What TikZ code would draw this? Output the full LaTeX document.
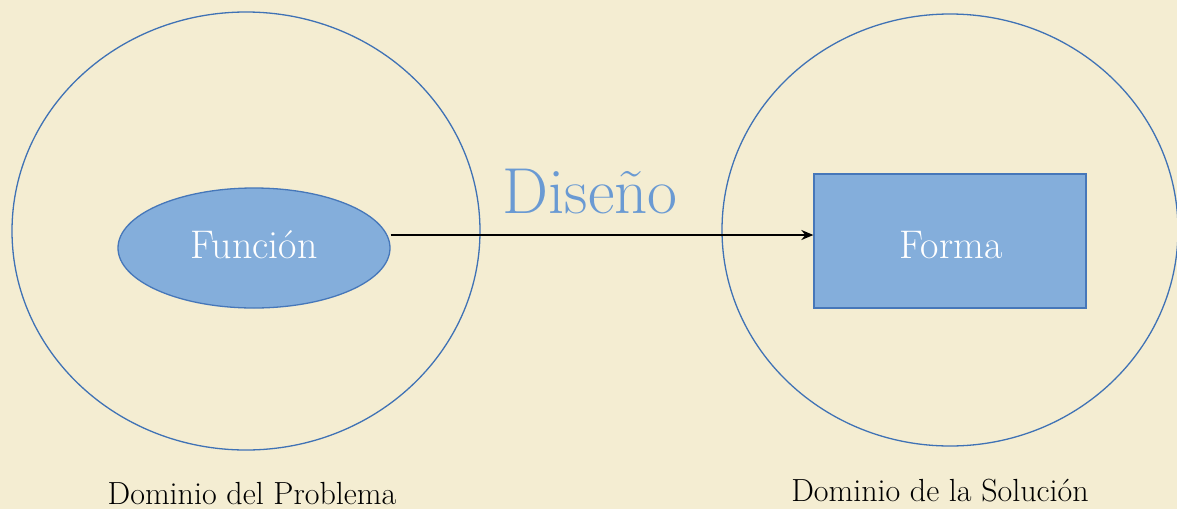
\documentclass[tikz,border=0pt]{standalone}
\usetikzlibrary{arrows.meta,shapes.geometric}
\definecolor{parchment}{HTML}{F4EDD2}
\definecolor{shapefill}{HTML}{84AEDB}
\definecolor{shapeline}{HTML}{4677B9}
\definecolor{circline}{HTML}{3F72B5}
\definecolor{titleblue}{HTML}{6A9AD3}
\tikzset{
  domainring/.style={draw=circline, line width=1.3pt},
  shapebox/.style={draw=shapeline, fill=shapefill, line width=1.3pt, inner sep=0pt},
  inlabel/.style={text=white, inner sep=0pt, anchor=base, font=\fontsize{40}{44}\selectfont},
  caption/.style={text=black, inner sep=0pt, anchor=base, font=\fontsize{32}{36}\selectfont},
}
\begin{document}
\begin{tikzpicture}[x=1pt,y=-1pt]
  \fill[parchment] (0,0) rectangle (1177,509);
  \useasboundingbox (0,0) rectangle (1177,509);

  % the two domains
  \draw[domainring] (246,231) ellipse [x radius=234, y radius=219];
  \draw[domainring] (950,230) ellipse [x radius=228, y radius=216];

  % function and form
  \node[shapebox, ellipse, minimum width=272pt, minimum height=120pt] (funcion) at (254,248) {};
  \node[inlabel] (funciontxt) at (254,258) {Función};
  \node[shapebox, rectangle, minimum width=272pt, minimum height=134pt] (forma) at (950,241) {};
  \node[inlabel] (formatxt) at (951,258) {Forma};

  % design arrow
  \coordinate (start) at (funcion.east |- 0,235);
  \draw[black, line width=1.8pt, -{Stealth[length=12pt,width=10pt]}] (start) -- (start -| forma.west);
  \node[text=titleblue, font=\fontsize{65}{70}\selectfont, inner sep=0pt, anchor=base] (diseno) at (590,213) {Diseño};

  % domain captions
  \node[caption] (problema) at (252,504) {Dominio del Problema};
  \node[caption] (solucion) at (940,501) {Dominio de la Solución};
\end{tikzpicture}
\end{document}
